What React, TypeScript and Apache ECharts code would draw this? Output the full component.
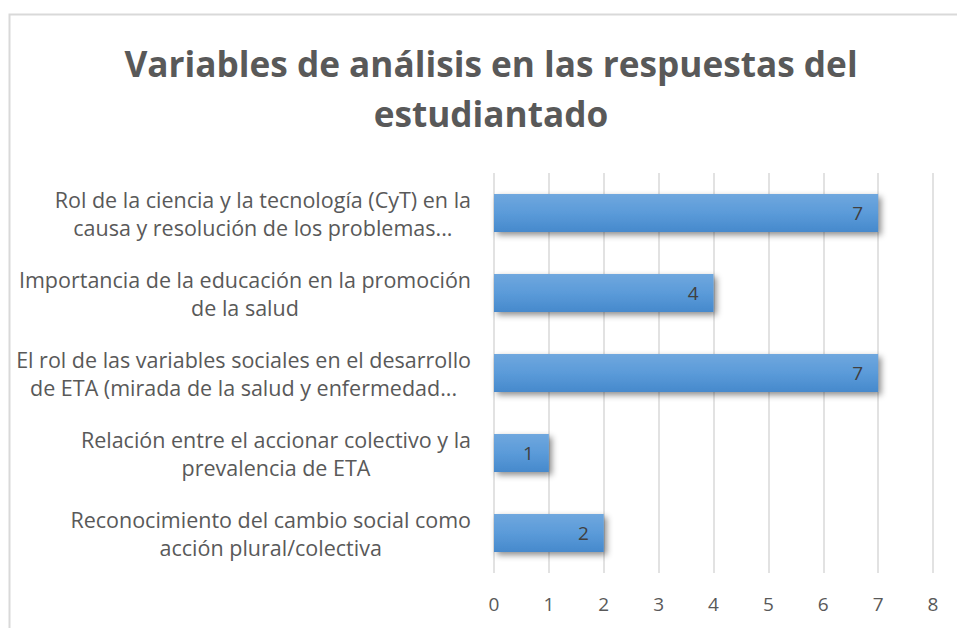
import React, { useEffect, useRef } from "react";
import * as echarts from "echarts";

const titleText = "Variables de análisis en las respuestas del\nestudiantado";
const categories = [
  "Rol de la ciencia y la tecnología (CyT) en la\ncausa y resolución de los problemas...",
  "Importancia de la educación en la promoción\nde la salud",
  "El rol de las variables sociales en el desarrollo\nde ETA (mirada de la salud y enfermedad...",
  "Relación entre el accionar colectivo y la\nprevalencia de ETA",
  "Reconocimiento del cambio social como\nacción plural/colectiva",
];
const values = [7, 4, 7, 1, 2];
const xTicks = [0, 1, 2, 3, 4, 5, 6, 7, 8];

export default function App() {
  const ref = useRef<HTMLDivElement>(null);
  useEffect(() => {
    document.body.style.margin = "0";
    const chart = echarts.init(ref.current!, null, { renderer: "svg" });
    const font = "Open Sans";
    chart.setOption({
      animation: false,
      backgroundColor: "#ffffff",
      title: {
        text: titleText,
        left: 486,
        top: 33,
        textAlign: "center",
        textStyle: {
          fontFamily: font,
          fontSize: 35.2,
          fontWeight: "bold",
          color: "#595959",
          lineHeight: 50,
        },
      },
      graphic: [
        {
          type: "rect",
          shape: { x: 9.5, y: 14.5, width: 960, height: 630 },
          style: { fill: "none", stroke: "#d9d9d9", lineWidth: 2 },
          silent: true,
        },
      ],
      grid: { left: 494, right: 24, top: 173, bottom: 55, containLabel: false },
      xAxis: {
        type: "value",
        min: xTicks[0],
        max: xTicks[xTicks.length - 1],
        interval: 1,
        axisLine: { show: false },
        axisTick: { show: false },
        splitLine: { show: true, lineStyle: { color: "#d9d9d9", width: 1.5 } },
        axisLabel: {
          margin: 21,
          fontFamily: font,
          fontSize: 19,
          color: "#595959",
        },
      },
      yAxis: {
        type: "category",
        data: categories,
        inverse: true,
        axisLine: { show: false },
        axisTick: { show: false },
        splitLine: { show: false },
        axisLabel: {
          margin: 23,
          align: "right",
          fontFamily: font,
          fontSize: 21.5,
          color: "#595959",
          lineHeight: 28,
          formatter: (v: string) =>
            v
              .split("\n")
              .map((l) => `{c|${l}}`)
              .join("\n"),
          rich: {
            c: {
              align: "center",
              fontFamily: font,
              fontSize: 21.5,
              color: "#595959",
              lineHeight: 28,
            },
          },
        },
      },
      series: [
        {
          type: "bar",
          data: values,
          barWidth: 38,
          itemStyle: {
            color: new echarts.graphic.LinearGradient(0, 0, 0, 1, [
              { offset: 0, color: "#6fa7de" },
              { offset: 0.5, color: "#5b9bd9" },
              { offset: 1, color: "#4689cc" },
            ]),
            shadowBlur: 6,
            shadowOffsetX: 3,
            shadowOffsetY: 3,
            shadowColor: "rgba(0,0,0,0.45)",
          },
          label: {
            show: true,
            position: "insideRight",
            distance: 15,
            fontFamily: font,
            fontSize: 19,
            color: "#404040",
          },
        },
      ],
    });
    return () => chart.dispose();
  }, []);
  return <div ref={ref} style={{ width: 957, height: 628 }} />;
}
